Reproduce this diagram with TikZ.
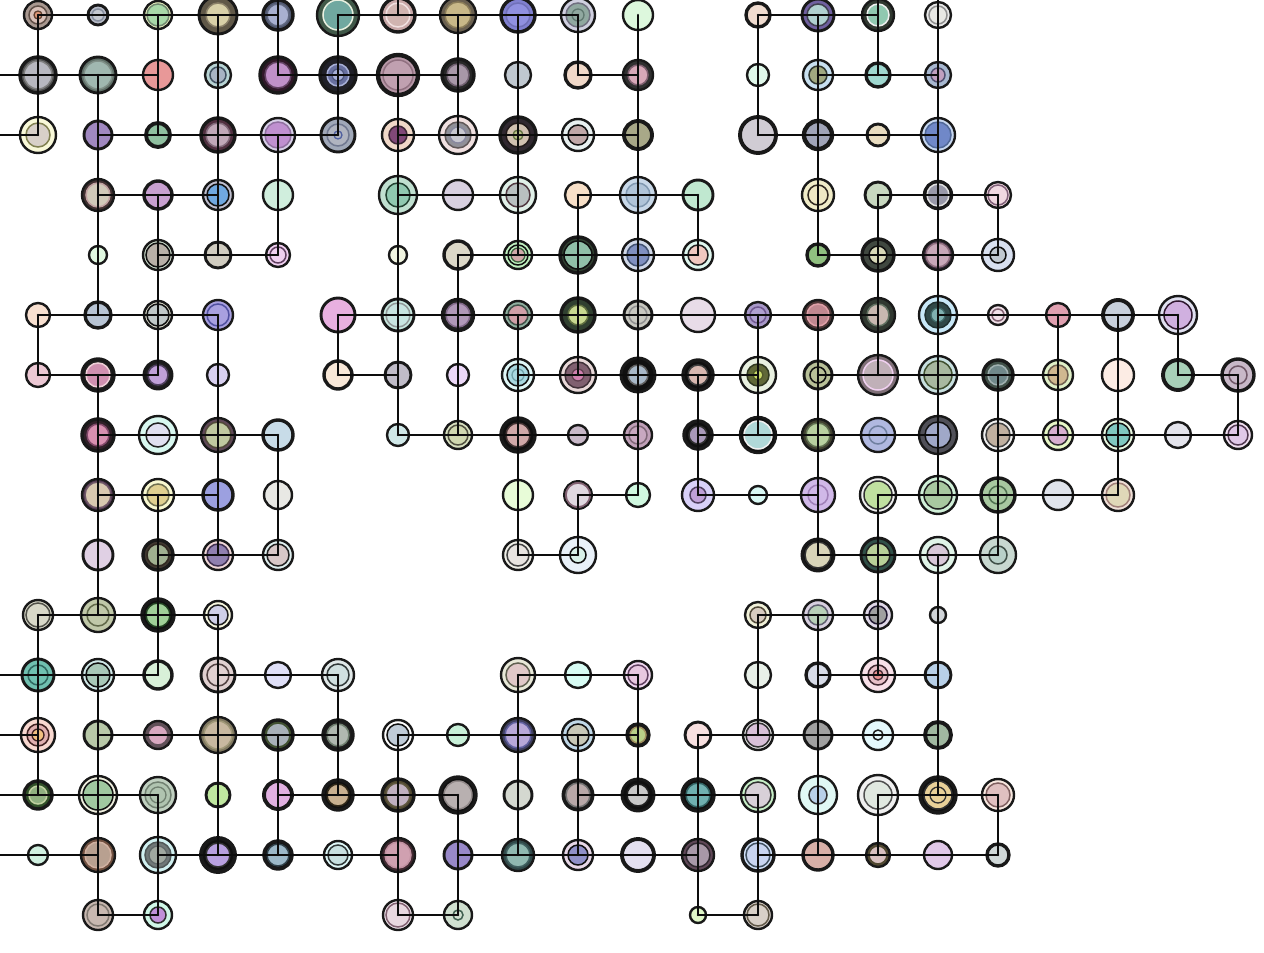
\documentclass[tikz,border=0pt]{standalone}
\usepackage{tikz}
\tikzset{
  nodebase/.style={circle, draw=black!90, inner sep=0pt, outer sep=0pt},
  edge/.style={line width=2.6pt, black!95, line cap=round},
}
% full node: col, row, radius, fill, border width, inner radius, inner fill, inner ring colour
\newcommand{\nd}[8]{%
  \definecolor{ndA}{HTML}{#4}\definecolor{ndB}{HTML}{#7}\definecolor{ndC}{HTML}{#8}%
  \node[nodebase, minimum size={2*#3pt}, fill=ndA, line width=#5pt+0.4pt] (n#1-#2) at ({38+60*#1},{15+60*#2}) {};
  \ifdim #6pt>0pt \filldraw[fill=ndB, draw=ndC, line width=1.5pt] (n#1-#2.center) circle (#6pt);\fi
}
% simple node: col, row, radius, fill, border width
\newcommand{\ns}[5]{\nd{#1}{#2}{#3}{#4}{#5}{0}{FFFFFF}{FFFFFF}}
% extra ring: col, row, radius, fill, ring colour
\newcommand{\rg}[5]{%
  \definecolor{ndB}{HTML}{#4}\definecolor{ndC}{HTML}{#5}%
  \filldraw[fill=ndB, draw=ndC, line width=1.3pt] (n#1-#2.center) circle (#3pt);}
\newcommand{\hE}[3]{\pgfmathtruncatemacro{\hEe}{#3-1}%
  \foreach \hi [evaluate=\hi as \hj using int(\hi+1)] in {#2,...,\hEe}{\draw[edge] (n\hi-#1.center) -- (n\hj-#1.center);}}
\newcommand{\vE}[3]{\pgfmathtruncatemacro{\vEe}{#3-1}%
  \foreach \vi [evaluate=\vi as \vj using int(\vi+1)] in {#2,...,\vEe}{\draw[edge] (n#1-\vi.center) -- (n#1-\vj.center);}}
\begin{document}
\begin{tikzpicture}[x=1pt,y=-1pt]
\clip (0,0) rectangle (1264,953);
\useasboundingbox (0,0) rectangle (1264,953);
\fill[white] (0,0) rectangle (1264,953);
% ---------- row 0
\nd{0}{0}{14}{A89890}{2}{9}{D8C0B8}{605048}\rg{0}{0}{4}{E09878}{604030}
\nd{1}{0}{10}{B8BCC8}{2.5}{6}{C4C8D0}{8890A0}
\nd{2}{0}{14}{E8F0C0}{2}{11}{A8D8A8}{708870}
\nd{3}{0}{19}{605848}{2.5}{12}{D8D0A8}{8A8068}
\nd{4}{0}{15}{505870}{3}{11}{A8B0D0}{606880}
\nd{5}{0}{21}{405848}{2}{15}{70A8A0}{E8F0E0}
\nd{6}{0}{17}{C8A8A8}{3}{12}{D0B4B0}{F0E0E0}
\nd{7}{0}{18}{6A6050}{2}{13}{C8B888}{8A7C58}
\nd{8}{0}{17}{8080D0}{3}{12}{9090E0}{7070B8}
\nd{9}{0}{17}{D0D0E0}{2}{12}{90A8A0}{707080}\rg{9}{0}{6}{90A8A0}{607870}
\ns{10}{0}{15}{DDF8DD}{2}
\ns{12}{0}{12}{F0DCD0}{3}
\nd{13}{0}{16}{7060A0}{2.5}{11}{B0D0D0}{404050}
\nd{14}{0}{16}{303830}{2}{11}{90C8B0}{F0F0F0}
\nd{15}{0}{13}{E8E8E8}{2}{9}{E8E8E4}{909090}
% ---------- row 1
\nd{0}{1}{18}{505050}{3}{14}{B8B8C0}{808080}
\nd{1}{1}{18}{607068}{2.5}{14}{A0B8B0}{809088}
\ns{2}{1}{15}{E89898}{2}
\nd{3}{1}{13}{B8D4D4}{2}{8}{A8B4C4}{405060}
\nd{4}{1}{18}{301828}{3}{13}{C090C8}{604060}
\nd{5}{1}{18}{202028}{3}{11}{6870A0}{A8B0D8}\rg{5}{1}{6}{A8B0D8}{505880}
\nd{6}{1}{20}{B898A8}{4}{15}{C0A0B0}{907080}
\nd{7}{1}{16}{282828}{3}{11}{A898A8}{706070}
\ns{8}{1}{13}{C0C8D0}{2}
\ns{9}{1}{13}{F0D8C8}{3}
\nd{10}{1}{15}{303030}{2}{10}{D8A8B8}{806070}
\ns{12}{1}{11}{E0F8EA}{2}
\nd{13}{1}{15}{C8E0F0}{2}{9}{A0A880}{303830}
\ns{14}{1}{12}{A0D8D0}{3}
\nd{15}{1}{13}{A8B8D0}{2}{7}{C0A0C0}{505070}
% ---------- row 2
\nd{0}{2}{18}{F8F8D8}{2}{12}{D8D0C8}{808050}
\ns{1}{2}{14}{A088C0}{2.5}
\ns{2}{2}{12}{90C0A0}{3.5}
\nd{3}{2}{17}{503040}{3}{12}{C0A8B8}{806878}
\nd{4}{2}{17}{D8D0E8}{2}{13}{C090D0}{9070A0}
\nd{5}{2}{17}{A0A8B8}{2.5}{11}{B0B4C0}{707890}\rg{5}{2}{4}{B0B4C0}{5060A0}
\nd{6}{2}{16}{F0D8C8}{2}{9}{804878}{402838}
\nd{7}{2}{19}{F0E0E0}{2}{13}{909098}{605858}\rg{7}{2}{8}{C8C8D0}{8888A0}
\nd{8}{2}{18}{302830}{3}{12}{D0C0B0}{201818}\rg{8}{2}{5}{B8C088}{607040}
\nd{9}{2}{16}{E8F0F0}{2}{10}{C0A8A8}{101010}
\ns{10}{2}{14}{A8A888}{3.5}
\ns{12}{2}{18}{D0CCD4}{3.5}
\ns{13}{2}{14}{A0A4B8}{4}
\ns{14}{2}{11}{E8DCC0}{2.5}
\nd{15}{2}{17}{C8D8F0}{2}{13}{7088C8}{506898}
% ---------- row 3
\nd{1}{3}{16}{403030}{2}{12}{D0C8B8}{C0A0A0}
\ns{2}{3}{14}{C8A0D0}{3}
\nd{3}{3}{15}{C0C0D0}{2}{11}{70A8E0}{101010}
\ns{4}{3}{15}{D0EEDD}{2}
\nd{6}{3}{19}{C0E0D0}{2}{12}{90C8B0}{204030}
\ns{7}{3}{15}{D8D0E0}{2}
\nd{8}{3}{18}{E0F0E8}{2}{12}{B8C0C0}{503840}
\ns{9}{3}{13}{F8E0C8}{2}
\nd{10}{3}{18}{C8D8E8}{2}{12}{B0C4D8}{8098B0}
\ns{11}{3}{15}{C0E8D0}{2.5}
\nd{13}{3}{16}{F0ECC8}{2}{10}{EEE8C4}{302820}
\ns{14}{3}{13}{C8D8C0}{2.5}
\nd{15}{3}{14}{101010}{2}{11}{9898A8}{E0E0E0}
\nd{16}{3}{13}{F0D8E0}{2}{10}{F0D8E0}{806078}
% ---------- row 4
\ns{1}{4}{9}{E0F8E0}{2}
\nd{2}{4}{15}{D0E0D0}{2}{12}{B8B0A8}{101010}
\ns{3}{4}{13}{D0CCC0}{2.5}
\nd{4}{4}{12}{F0D0F0}{2}{8}{F0D0F0}{604060}
\ns{6}{4}{9}{F0F4E0}{2}
\ns{7}{4}{14}{DCD8C8}{3}
\nd{8}{4}{14}{C0F0C0}{2}{10}{C0F0C0}{101010}\rg{8}{4}{7}{D0A8A8}{406040}
\nd{9}{4}{18}{304030}{3}{14}{90C0A8}{101010}
\nd{10}{4}{16}{D0D8E8}{2}{11}{8090C0}{405070}
\nd{11}{4}{15}{E0F8F0}{2}{10}{F0C8C0}{202020}
\ns{13}{4}{11}{90C080}{3}
\nd{14}{4}{16}{404840}{3}{9}{D8D8B8}{101010}
\nd{15}{4}{15}{403040}{2}{12}{C8A8B8}{907080}
\nd{16}{4}{16}{D8E0F0}{2}{8}{C0C8D0}{101010}
% ---------- row 5
\ns{0}{5}{12}{F8E0D0}{2}
\ns{1}{5}{13}{B8C4D4}{3}
\nd{2}{5}{14}{E0E0D0}{2}{11}{C0C8C8}{101010}
\nd{3}{5}{15}{A8A0E0}{2}{11}{A8A0E0}{5050A0}
\ns{5}{5}{17}{E8B0E0}{2.5}
\nd{6}{5}{16}{C8E8E0}{2.5}{12}{C8E4E0}{909898}
\nd{7}{5}{16}{202020}{2}{12}{B098B8}{806888}
\nd{8}{5}{14}{90B0A0}{2}{10}{D0A0A8}{405048}
\nd{9}{5}{17}{304030}{3}{10}{C8D890}{607040}
\nd{10}{5}{14}{C8C8C0}{2.5}{9}{C8C8C0}{909090}
\ns{11}{5}{17}{E8DCE8}{2}
\nd{12}{5}{13}{A898C8}{2}{8}{B0A0D0}{705890}
\nd{13}{5}{15}{503838}{2}{11}{C08890}{E0A0A8}
\nd{14}{5}{17}{303830}{2}{11}{C8B8B0}{607060}
\nd{15}{5}{19}{C8E8F8}{2}{13}{304848}{203030}\rg{15}{5}{7}{80B0B0}{406868}
\nd{16}{5}{10}{F0E0E8}{2}{6}{F0E0E8}{806070}
\ns{17}{5}{12}{E0A0B0}{2}
\ns{18}{5}{15}{C8D0DC}{3.5}
\nd{19}{5}{19}{E0E0F0}{2}{14}{D0B0E0}{301830}
% ---------- row 6
\ns{0}{6}{12}{ECC8D4}{2}
\nd{1}{6}{16}{202020}{3}{12}{D090B0}{F0D0D8}
\nd{2}{6}{14}{202020}{2.5}{10}{C0A0D8}{504060}
\ns{3}{6}{11}{D8D0F0}{2}
\ns{5}{6}{14}{F8E8D8}{3}
\ns{6}{6}{13}{C0BCC8}{2.5}
\ns{7}{6}{11}{ECD8F8}{2}
\nd{8}{6}{16}{E0F8F8}{2}{11}{A8D8E0}{101010}\rg{8}{6}{6}{A8D8E0}{70A0A8}
\nd{9}{6}{18}{E8D8D8}{2}{13}{806070}{403038}\rg{9}{6}{6}{D080B0}{604050}
\nd{10}{6}{17}{101010}{2.5}{10}{A8B8C8}{606060}
\nd{11}{6}{15}{101010}{3}{10}{D8B8B0}{404040}
\nd{12}{6}{18}{E8F0E0}{2}{11}{606838}{303820}\rg{12}{6}{5}{C8D868}{505828}
\nd{13}{6}{14}{B8C098}{2.5}{8}{B8C098}{101010}
\nd{14}{6}{20}{807078}{2}{15}{C0B0B8}{F0D0F0}
\nd{15}{6}{19}{C8E0E0}{2}{14}{A8B8A0}{405030}
\nd{16}{6}{15}{405048}{3}{10}{70888A}{A0B0B0}
\nd{17}{6}{15}{E0F0C8}{2}{10}{D0B890}{706050}
\ns{18}{6}{16}{FCECE4}{2}
\ns{19}{6}{15}{A8D0B8}{3.5}
\nd{20}{6}{16}{C8B8C8}{3}{9}{C8B8C8}{705868}
% ---------- row 7
\nd{1}{7}{16}{302028}{3}{11}{D890B0}{804868}
\nd{2}{7}{19}{D8F8F0}{2}{12}{E0E0F0}{202020}
\nd{3}{7}{17}{604858}{2}{13}{C0C8A0}{504838}
\ns{4}{7}{15}{C8DCE8}{3}
\ns{6}{7}{11}{D0E8E8}{2}
\nd{7}{7}{14}{D8E0C0}{2}{10}{D0D8B0}{505040}
\nd{8}{7}{17}{101010}{3}{12}{D0A8A8}{403030}
\ns{9}{7}{10}{C8B8C8}{2}
\nd{10}{7}{14}{C0A0B8}{2}{9}{C8A8C0}{806878}
\nd{11}{7}{14}{101010}{3}{9}{A898B8}{303030}
\nd{12}{7}{18}{101010}{2}{14}{B0D8D8}{F0F0F0}
\nd{13}{7}{16}{404030}{2}{12}{B8D0A0}{607050}
\nd{14}{7}{17}{B0B8E0}{2}{9}{B0B8E0}{7080A0}
\nd{15}{7}{19}{505058}{2}{13}{A0A8C8}{101010}
\nd{16}{7}{16}{F0F0F0}{2}{12}{C0B0A0}{404040}
\nd{17}{7}{15}{E8F8C8}{2}{10}{D8B0D0}{303030}
\nd{18}{7}{16}{E8F8E0}{2}{12}{80C8C0}{101010}
\ns{19}{7}{13}{E4E4EC}{2}
\nd{20}{7}{14}{F0E0F0}{2}{10}{E0C8E8}{503850}
% ---------- row 8
\nd{1}{8}{16}{503850}{2}{13}{D8C8B0}{705868}
\nd{2}{8}{16}{F8F8D0}{2}{11}{E0D090}{707050}
\ns{3}{8}{15}{9CA0E0}{3}
\ns{4}{8}{14}{E8E8E4}{2}
\ns{8}{8}{15}{E8FCD8}{2}
\nd{9}{8}{14}{806070}{1.5}{12}{E0D8E0}{806070}
\ns{10}{8}{12}{D0F8E0}{2}
\nd{11}{8}{16}{D8D0F8}{2}{8}{C0A0D8}{504060}
\ns{12}{8}{9}{D8F8F4}{2}
\nd{13}{8}{17}{D0B8E8}{2}{10}{D0B8E8}{A080B8}
\nd{14}{8}{18}{F0F0F0}{2}{14}{C0E0A0}{303030}
\nd{15}{8}{19}{D0F0D8}{2}{14}{A8C8A0}{202020}
\nd{16}{8}{17}{A8C8A0}{3}{9}{A8C8A0}{507050}
\ns{17}{8}{15}{E0E4EC}{2}
\nd{18}{8}{16}{F0E0D8}{2}{12}{E0D8B8}{A08078}
% ---------- row 9
\ns{1}{9}{15}{E0D0E4}{2.5}
\nd{2}{9}{15}{403830}{3}{11}{A0B090}{302820}
\nd{3}{9}{15}{F0D8D8}{2}{11}{9080B0}{403050}
\nd{4}{9}{15}{E0F0F0}{2}{11}{D8C8C8}{202020}
\nd{8}{9}{15}{F0F0E8}{2}{11}{E8E4E0}{404040}
\nd{9}{9}{18}{E8F0F8}{2}{8}{D8F0E8}{101010}
\nd{13}{9}{16}{101010}{2.5}{13}{D8D4B8}{303030}
\nd{14}{9}{17}{305048}{2.5}{12}{B8D098}{202020}
\nd{15}{9}{18}{E0F4E8}{2}{11}{D8C8D8}{202020}
\nd{16}{9}{18}{C8D8D0}{2}{9}{B8D0C8}{405048}
% ---------- row 10
\nd{0}{10}{15}{D8D8C8}{2}{12}{D8D8C8}{505048}
\nd{1}{10}{17}{C0C8A8}{2}{11}{C0C8A8}{606848}
\nd{2}{10}{16}{101010}{3}{12}{A0D098}{204020}
\nd{3}{10}{14}{F8F8E0}{2}{10}{D0D0E8}{202020}
\nd{12}{10}{13}{F0F0D8}{2}{8}{D8CCC0}{504838}
\nd{13}{10}{15}{D8D0E0}{2}{10}{B8D0B8}{606070}
\nd{14}{10}{14}{E0D8E8}{2}{9}{A0A0A0}{201830}
\ns{15}{10}{8}{D0D4D8}{2}
% ---------- row 11
\nd{0}{11}{16}{70C0B0}{2.5}{10}{70C0B0}{306860}
\nd{1}{11}{16}{D0E8E8}{2}{12}{A8C8B8}{101010}
\ns{2}{11}{14}{D8F0D8}{3}
\nd{3}{11}{17}{E0D0D0}{2.5}{11}{E0D0D0}{504040}
\ns{4}{11}{13}{E0E0F8}{2}
\nd{5}{11}{16}{E0E8E8}{2}{11}{D0E0E0}{303838}
\nd{8}{11}{17}{E8E8D8}{2}{12}{E0C8C8}{606050}
\ns{9}{11}{13}{D8FCF4}{2}
\nd{10}{11}{14}{F0D8F0}{2}{10}{E8C8E0}{604060}
\ns{12}{11}{13}{E8F0E8}{2}
\ns{13}{11}{12}{D8DCE8}{3}
\nd{14}{11}{17}{F8E0E8}{2}{10}{E8C0C8}{402830}\rg{14}{11}{5}{E89090}{402830}
\ns{15}{11}{13}{B8D0E8}{2.5}
% ---------- row 12
\nd{0}{12}{17}{F8D8D0}{2}{11}{E0B0B0}{402020}\rg{0}{12}{6}{F0C080}{402020}
\ns{1}{12}{14}{B8C8A8}{2.5}
\nd{2}{12}{14}{605058}{2}{10}{D8A8C0}{605058}
\nd{3}{12}{18}{807860}{2}{14}{C8B8A0}{A09878}
\nd{4}{12}{15}{405030}{3}{12}{A8B0B8}{405030}
\nd{5}{12}{15}{202020}{3}{11}{B0B8B0}{708070}
\nd{6}{12}{15}{FFFFFF}{2}{11}{C0CCD8}{101010}
\ns{7}{12}{11}{C8F0D8}{2}
\nd{8}{12}{17}{404060}{2}{13}{B8A8D8}{6060A0}
\nd{9}{12}{16}{C0D8E8}{2}{11}{C8C8B8}{101010}
\nd{10}{12}{11}{101010}{3}{8}{B8D088}{A09060}
\ns{11}{12}{13}{F8E0E0}{2.5}
\nd{12}{12}{15}{E8E8E8}{2}{12}{D8C0D8}{303030}
\ns{13}{12}{14}{A0A0A0}{2.5}
\nd{14}{12}{15}{E4F8FC}{2}{5}{E4F8FC}{202020}
\ns{15}{12}{13}{A0B8A0}{3.5}
% ---------- row 13
\nd{0}{13}{14}{305028}{3}{9}{90B080}{C0D0A0}
\nd{1}{13}{19}{F0F0E0}{2}{15}{A0C8A0}{101010}
\nd{2}{13}{18}{C0D0C0}{2}{13}{B0C4B0}{708070}\rg{2}{13}{8}{B0C4B0}{708070}
\ns{3}{13}{12}{C0E8A0}{2.5}
\ns{4}{13}{14}{E0B0E0}{3.5}
\nd{5}{13}{15}{101010}{3}{11}{C8B090}{302818}
\nd{6}{13}{16}{504830}{3}{12}{C0B0C0}{605840}
\nd{7}{13}{18}{101010}{3}{14}{B8B0B0}{908888}
\ns{8}{13}{14}{D4D8D0}{2.5}
\nd{9}{13}{15}{202020}{2.5}{12}{B8A8A8}{707070}
\nd{10}{13}{16}{101010}{2.5}{11}{C8C8C8}{202020}
\nd{11}{13}{16}{101010}{3}{12}{70B0B0}{306060}
\nd{12}{13}{17}{C8F0C8}{2}{13}{D8D0D8}{303030}
\nd{13}{13}{19}{E0F8F4}{2}{9}{B8D0E8}{303030}
\nd{14}{13}{20}{F0F0F0}{2}{14}{E0E8E0}{505050}
\nd{15}{13}{18}{101010}{3}{14}{E8D098}{303030}\rg{15}{13}{8}{E8D098}{303030}
\nd{16}{13}{16}{F8E8E0}{2}{12}{E0C0C0}{806060}
% ---------- row 14
\ns{0}{14}{10}{D0F0E0}{2}
\nd{1}{14}{17}{705040}{2}{13}{B8A090}{D0B0A0}
\nd{2}{14}{18}{D0F0F0}{2}{13}{707878}{505858}\rg{2}{14}{9}{A0A8A0}{606868}
\nd{3}{14}{17}{101010}{3.5}{12}{B8A0E0}{303030}
\nd{4}{14}{14}{101010}{3}{11}{9CB8C8}{304048}
\nd{5}{14}{14}{E0F8F8}{2}{10}{C8E0E0}{303838}
\nd{6}{14}{17}{402830}{2}{13}{D0A0B0}{C090A0}
\ns{7}{14}{14}{9888C8}{2.5}
\nd{8}{14}{16}{304848}{2}{12}{90B8B0}{406060}
\nd{9}{14}{15}{E8D8E8}{2}{10}{9090C8}{101010}
\ns{10}{14}{16}{E4E0F0}{3.5}
\nd{11}{14}{16}{604858}{2}{12}{A898A8}{302830}
\nd{12}{14}{16}{D0E0F8}{3}{12}{C8D4F0}{405060}
\ns{13}{14}{15}{D8B0A8}{3}
\nd{14}{14}{12}{504830}{2}{9}{D8C0C0}{504830}
\ns{15}{14}{14}{E0C8E8}{2}
\ns{16}{14}{11}{D0D8D8}{3}
% ---------- row 15
\nd{1}{15}{15}{C8B8B0}{2}{11}{C8B8B0}{807870}
\nd{2}{15}{14}{D0F8E8}{2}{8}{C090D8}{303030}
\nd{6}{15}{15}{F0E4EC}{2}{12}{E8D8E0}{806070}
\nd{7}{15}{14}{D0E0D0}{2}{5}{D0E0D0}{406050}
\ns{11}{15}{8}{E0F8C8}{2}
\nd{12}{15}{14}{D8D0C8}{2}{11}{D8D0C8}{605848}
% ---------- off-picture ends
\coordinate (L1) at (-22,75);
\coordinate (L2) at (-22,135);
\coordinate (L11) at (-22,675);
\coordinate (L12) at (-22,735);
\coordinate (L13) at (-22,795);
\coordinate (L14) at (-22,855);
\coordinate (T4) at (278,-45);
\coordinate (T6) at (398,-45);
\coordinate (T14) at (878,-45);
\coordinate (T15) at (938,-45);
\foreach \k in {1,2,11,12,13,14}{\draw[edge] (L\k) -- (n0-\k.center);}
\foreach \k in {4,6,14,15}{\draw[edge] (T\k) -- (n\k-0.center);}
% ---------- horizontal connectors
\hE{0}{0}{4}\hE{0}{5}{9}\hE{0}{12}{14}
\hE{1}{0}{2}\hE{1}{4}{7}\hE{1}{9}{10}\hE{1}{13}{15}
\hE{2}{1}{5}\hE{2}{6}{10}\hE{2}{12}{15}
\hE{3}{1}{3}\hE{3}{6}{8}\hE{3}{9}{11}\hE{3}{14}{16}
\hE{4}{2}{4}\hE{4}{7}{11}\hE{4}{13}{16}
\hE{5}{0}{3}\hE{5}{5}{14}\hE{5}{15}{19}
\hE{6}{0}{2}\hE{6}{5}{6}\hE{6}{8}{12}\hE{6}{13}{17}\hE{6}{19}{20}
\hE{7}{1}{4}\hE{7}{6}{10}\hE{7}{11}{15}\hE{7}{16}{20}
\hE{8}{1}{3}\hE{8}{9}{10}\hE{8}{11}{13}\hE{8}{14}{18}
\hE{9}{2}{4}\hE{9}{8}{9}\hE{9}{13}{16}
\hE{10}{0}{3}\hE{10}{12}{14}
\hE{11}{0}{2}\hE{11}{3}{5}\hE{11}{8}{10}\hE{11}{13}{15}
\hE{12}{1}{5}\hE{12}{6}{10}\hE{12}{11}{15}
\hE{13}{0}{2}\hE{13}{4}{7}\hE{13}{9}{12}\hE{13}{14}{16}
\hE{14}{0}{1}\hE{14}{2}{6}\hE{14}{7}{11}\hE{14}{12}{16}
\hE{15}{1}{2}\hE{15}{6}{7}\hE{15}{11}{12}
% ---------- vertical connectors
\vE{0}{0}{2}\vE{0}{5}{6}\vE{0}{10}{13}
\vE{1}{1}{5}\vE{1}{6}{10}\vE{1}{11}{15}
\vE{2}{0}{2}\vE{2}{3}{6}\vE{2}{8}{11}\vE{2}{13}{15}
\vE{3}{0}{4}\vE{3}{5}{9}\vE{3}{10}{14}
\vE{4}{0}{1}\vE{4}{2}{4}\vE{4}{7}{9}\vE{4}{12}{14}
\vE{5}{0}{2}\vE{5}{5}{6}\vE{5}{11}{13}
\vE{6}{1}{7}\vE{6}{12}{15}
\vE{7}{0}{2}\vE{7}{4}{7}\vE{7}{13}{15}
\vE{8}{0}{4}\vE{8}{5}{9}\vE{8}{11}{14}
\vE{9}{0}{1}\vE{9}{3}{6}\vE{9}{8}{9}\vE{9}{12}{14}
\vE{10}{0}{8}\vE{10}{11}{13}
\vE{11}{3}{4}\vE{11}{6}{8}\vE{11}{12}{15}
\vE{12}{0}{2}\vE{12}{5}{7}\vE{12}{10}{12}\vE{12}{13}{15}
\vE{13}{0}{4}\vE{13}{5}{9}\vE{13}{10}{14}
\vE{14}{0}{1}\vE{14}{3}{6}\vE{14}{8}{11}\vE{14}{13}{14}
\vE{15}{0}{8}\vE{15}{9}{13}
\vE{16}{3}{4}\vE{16}{6}{9}\vE{16}{13}{14}
\vE{17}{5}{7}\vE{18}{5}{8}\vE{19}{5}{6}\vE{20}{6}{7}
\end{tikzpicture}
\end{document}
